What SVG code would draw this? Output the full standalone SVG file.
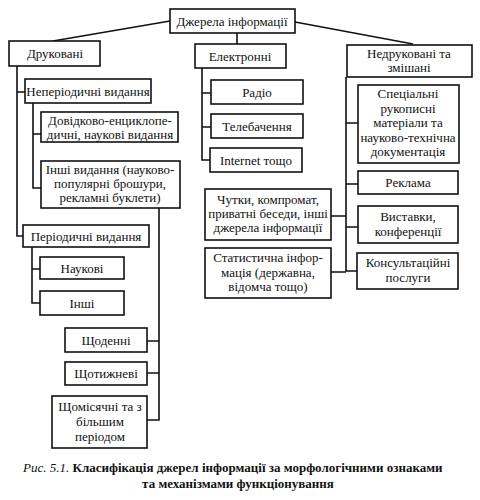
<svg xmlns="http://www.w3.org/2000/svg" width="480" height="500" viewBox="0 0 480 500">
<style>
.b{fill:#fff;stroke:#111;stroke-width:1.6}
.t{font-family:"Liberation Serif",serif;font-size:13px;fill:#111;text-anchor:middle}
.c{fill:none;stroke:#111;stroke-width:1.6}
.cap{font-family:"Liberation Serif",serif;font-size:13px;fill:#111;font-weight:bold}
</style>
<rect width="480" height="500" fill="#fff"/>
<g id="connectors" class="c">
<path d="M170 21 L53 41 M295 22 L413 44 M237 33 V44"/>
<path d="M17 66 V236 H23 M17 92 H25"/>
<path d="M33 103 V188 H41 M33 134 H41"/>
<path d="M32 247 V303 H40 M32 269 H40"/>
<path d="M159 208 V420 H147 M159 341 H147 M159 373 H147"/>
<path d="M202 68 V160 H210 M202 93 H211 M202 127 H211"/>
<path d="M346 77 V271 H357 M346 123 H358 M346 184 H358 M346 227 H358 M331 216 H346 M331 272 H346"/>
</g>
<g id="n-root"><rect class="b" x="170" y="9" width="125" height="24"/><text class="t" x="232" y="25.5">Джерела інформації</text></g>
<g id="n-druk"><rect class="b" x="9" y="41" width="91" height="25"/><text class="t" x="55" y="58">Друковані</text></g>
<g id="n-elektr"><rect class="b" x="195" y="44" width="91" height="24"/><text class="t" x="240" y="60.5">Електронні</text></g>
<g id="n-nedruk"><rect class="b" x="347" y="45" width="125" height="32"/><text class="t" x="409" y="57.5">Недруковані та</text><text class="t" x="409" y="72">змішані</text></g>
<g id="n-neper"><rect class="b" x="25" y="79" width="126" height="24"/><text class="t" x="88" y="95.5">Неперіодичні видання</text></g>
<g id="n-dovid"><rect class="b" x="41" y="112" width="137" height="30"/><text class="t" x="110" y="125">Довідково-енциклопе-</text><text class="t" x="110" y="139">дичні, наукові видання</text></g>
<g id="n-inshi-vyd"><rect class="b" x="41" y="161" width="139" height="47"/><text class="t" x="110" y="174">Інші видання (науково-</text><text class="t" x="110" y="188">популярні брошури,</text><text class="t" x="110" y="202">рекламні буклети)</text></g>
<g id="n-period"><rect class="b" x="23" y="225" width="126" height="22"/><text class="t" x="86" y="240.5">Періодичні видання</text></g>
<g id="n-naukovi"><rect class="b" x="40" y="257" width="84" height="22"/><text class="t" x="82" y="272.5">Наукові</text></g>
<g id="n-inshi"><rect class="b" x="40" y="291" width="84" height="24"/><text class="t" x="82" y="307.5">Інші</text></g>
<g id="n-radio"><rect class="b" x="211" y="80" width="92" height="24"/><text class="t" x="257" y="96.5">Радіо</text></g>
<g id="n-tele"><rect class="b" x="211" y="114" width="92" height="24"/><text class="t" x="257" y="130.5">Телебачення</text></g>
<g id="n-internet"><rect class="b" x="210" y="148" width="92" height="24"/><text class="t" x="256" y="164.5">Internet тощо</text></g>
<g id="n-spec"><rect class="b" x="358" y="85" width="101" height="78"/><text class="t" x="408" y="98">Спеціальні</text><text class="t" x="408" y="112.5">рукописні</text><text class="t" x="408" y="127">матеріали та</text><text class="t" x="408" y="141.5">науково-технічна</text><text class="t" x="408" y="156">документація</text></g>
<g id="n-reklama"><rect class="b" x="358" y="171" width="100" height="23"/><text class="t" x="408" y="187">Реклама</text></g>
<g id="n-vystavky"><rect class="b" x="358" y="206" width="100" height="37"/><text class="t" x="408" y="221">Виставки,</text><text class="t" x="408" y="235.5">конференції</text></g>
<g id="n-konsult"><rect class="b" x="357" y="253" width="101" height="36"/><text class="t" x="408" y="267">Консультаційні</text><text class="t" x="408" y="281.5">послуги</text></g>
<g id="n-chutky"><rect class="b" x="205" y="189" width="126" height="51"/><text class="t" x="268" y="204">Чутки, компромат,</text><text class="t" x="268" y="218">приватні беседи, інші</text><text class="t" x="268" y="232">джерела інформації</text></g>
<g id="n-statyst"><rect class="b" x="205" y="248" width="126" height="50"/><text class="t" x="268" y="262">Статистична інфор-</text><text class="t" x="268" y="277">мація (державна,</text><text class="t" x="268" y="291">відомча тощо)</text></g>
<g id="n-shchod"><rect class="b" x="65" y="328" width="82" height="24"/><text class="t" x="106" y="344.5">Щоденні</text></g>
<g id="n-shchotyzh"><rect class="b" x="65" y="362" width="82" height="23"/><text class="t" x="106" y="378">Щотижневі</text></g>
<g id="n-shchomis"><rect class="b" x="52" y="396" width="95" height="52"/><text class="t" x="100" y="411">Щомісячні та з</text><text class="t" x="100" y="426">більшим</text><text class="t" x="100" y="441">періодом</text></g>
<g id="caption">
<text class="cap" x="23" y="472"><tspan font-style="italic" font-weight="normal">Рис. 5.1.</tspan> Класифікація джерел інформації за морфологічними ознаками</text>
<text class="cap" x="238" y="488" text-anchor="middle">та механізмами функціонування</text>
</g>
</svg>
